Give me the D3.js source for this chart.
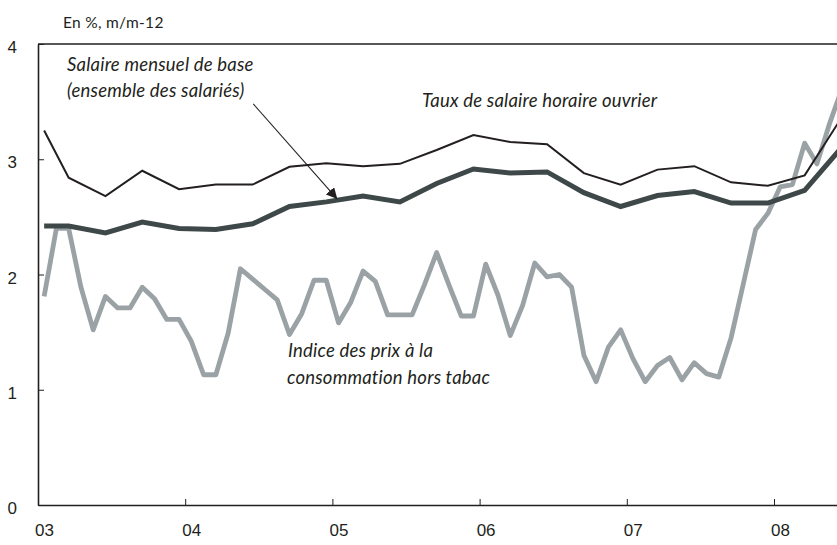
<!DOCTYPE html>
<html>
<head>
<meta charset="utf-8">
<script src="https://cdn.jsdelivr.net/npm/d3@7"></script>
<style>
  html, body { margin: 0; padding: 0; background: #fff; }
  svg { display: block; font-family: Lato, "Open Sans", sans-serif; }
  .note { font-style: italic; font-size: 18.5px; letter-spacing: 0.2px; fill: #231f20; }
  .tick text { font-size: 17px; fill: #231f20; }
</style>
</head>
<body>
<svg id="chart"></svg>
<script>
// DATA (months counted from Jan 2003, plotted mid-month)
const yearTicks = [0, 12, 24, 36, 48, 60];
const yearLabels = ['03', '04', '05', '06', '07', '08'];
const valueTicks = [0, 1, 2, 3, 4];

const wageMonths = [0, 2, 5, 8, 11, 14, 17, 20, 23, 26, 29, 32, 35, 38, 41, 44, 47, 50, 53, 56, 59, 62, 65];
const hourlyWage = [3.25, 2.84, 2.68, 2.90, 2.74, 2.78, 2.78, 2.935, 2.965, 2.94, 2.96, 3.08,
                    3.21, 3.15, 3.13, 2.88, 2.78, 2.91, 2.94, 2.80, 2.77, 2.86, 3.36];
const baseWage = [2.42, 2.42, 2.36, 2.455, 2.40, 2.39, 2.44, 2.59, 2.63, 2.68, 2.63, 2.79,
                  2.915, 2.88, 2.89, 2.71, 2.59, 2.685, 2.72, 2.62, 2.62, 2.73, 3.10];
const cpiExTobacco = [1.81, 2.40, 2.40, 1.89, 1.52, 1.81, 1.71, 1.71, 1.89, 1.79, 1.61, 1.61,
                      1.42, 1.13, 1.13, 1.49, 2.05, 1.96, 1.87, 1.78, 1.48, 1.66, 1.95, 1.95,
                      1.58, 1.76, 2.03, 1.94, 1.65, 1.65, 1.65, 1.91, 2.19, 1.91, 1.64, 1.64,
                      2.09, 1.82, 1.47, 1.73, 2.10, 1.98, 2.00, 1.89, 1.30, 1.07, 1.37, 1.52,
                      1.27, 1.07, 1.21, 1.28, 1.085, 1.235, 1.14, 1.11, 1.45, 1.92, 2.39, 2.53,
                      2.76, 2.78, 3.14, 2.96, 3.30, 3.60];

// SET FIGURE
const _width = 837, _height = 545;
const _margin = {left: 38, top: 44, bottom: 40};
const _color = {ink: '#231f20', base: '#3e4849', cpi: '#9ba2a6'};
const _yearWidth = 147.2;

let x = d3.scaleLinear()
          .domain([0, 66])
          .range([_margin.left, _margin.left + 66 * _yearWidth / 12]);
let y = d3.scaleLinear()
          .domain([0, 4])
          .range([_height - _margin.bottom, _margin.top]);

let svg = d3.select('#chart')
            .attr('width', _width)
            .attr('height', _height);

// frame top line
svg.append('line')
      .attr('x1', x(0))
      .attr('x2', x(66))
      .attr('y1', y(4))
      .attr('y2', y(4))
      .attr('stroke', _color.ink)
      .attr('stroke-width', 1.6);

// axes
let yAxis = svg.append('g')
                .attr('transform', `translate(${x(0)},0)`)
                .call(d3.axisLeft(y)
                        .tickValues(valueTicks)
                        .tickFormat(d3.format('d'))
                        .tickSizeInner(-6)
                        .tickSizeOuter(0)
                        .tickPadding(21));
let xAxis = svg.append('g')
                .attr('transform', `translate(0,${y(0)})`)
                .call(d3.axisBottom(x)
                        .tickValues(yearTicks)
                        .tickFormat((d, i) => yearLabels[i])
                        .tickSizeInner(-6)
                        .tickSizeOuter(0)
                        .tickPadding(19));
[yAxis, xAxis].forEach(ax => {
  ax.select('.domain').attr('stroke', _color.ink).attr('stroke-width', 1.6);
  ax.selectAll('.tick line').attr('stroke', _color.ink).attr('stroke-width', 1);
  ax.selectAll('.tick text').attr('font-family', null).attr('font-size', null);
});
xAxis.selectAll('.tick text').attr('dx', 6);
yAxis.selectAll('.tick text').attr('dy', '0.5em');

// lines
let line = d3.line()
              .x(d => x(d[0] + 0.5))
              .y(d => y(d[1]));

svg.append('path')
      .datum(cpiExTobacco.map((v, i) => [i, v]))
      .attr('d', line)
      .attr('fill', 'none')
      .attr('stroke', _color.cpi)
      .attr('stroke-width', 4.8)
      .attr('stroke-linejoin', 'round');
svg.append('path')
      .datum(baseWage.map((v, i) => [wageMonths[i], v]))
      .attr('d', line)
      .attr('fill', 'none')
      .attr('stroke', _color.base)
      .attr('stroke-width', 5);
svg.append('path')
      .datum(hourlyWage.map((v, i) => [wageMonths[i], v]))
      .attr('d', line)
      .attr('fill', 'none')
      .attr('stroke', _color.ink)
      .attr('stroke-width', 2);

// texts
svg.append('text')
      .attr('x', 63)
      .attr('y', 28)
      .attr('font-size', 15.5)
      .attr('letter-spacing', 0.3)
      .attr('fill', _color.ink)
      .text('En %, m/m-12');

const notes = [
  {x: 67, y: 71, t: 'Salaire mensuel de base'},
  {x: 67, y: 97, t: '(ensemble des salariés)'},
  {x: 422, y: 107, t: 'Taux de salaire horaire ouvrier'},
  {x: 288, y: 357, t: 'Indice des prix à la'},
  {x: 287, y: 384, t: 'consommation hors tabac'}
];
svg.selectAll('text.note')
    .data(notes)
    .enter()
  .append('text')
    .attr('class', 'note')
    .attr('x', d => d.x)
    .attr('y', d => d.y)
    .text(d => d.t);

// arrow to base wage line
svg.append('defs')
    .append('marker')
      .attr('id', 'head')
      .attr('viewBox', '0 0 10 10')
      .attr('refX', 10)
      .attr('refY', 5)
      .attr('markerWidth', 11)
      .attr('markerHeight', 11)
      .attr('markerUnits', 'userSpaceOnUse')
      .attr('orient', 'auto')
    .append('path')
      .attr('d', 'M0,0L10,5L0,10z')
      .attr('fill', _color.ink);
svg.append('line')
      .attr('x1', x(17.55))
      .attr('y1', y(3.48))
      .attr('x2', x(24.4))
      .attr('y2', y(2.655))
      .attr('stroke', _color.ink)
      .attr('stroke-width', 1.1)
      .attr('marker-end', 'url(#head)');
</script>
</body>
</html>
